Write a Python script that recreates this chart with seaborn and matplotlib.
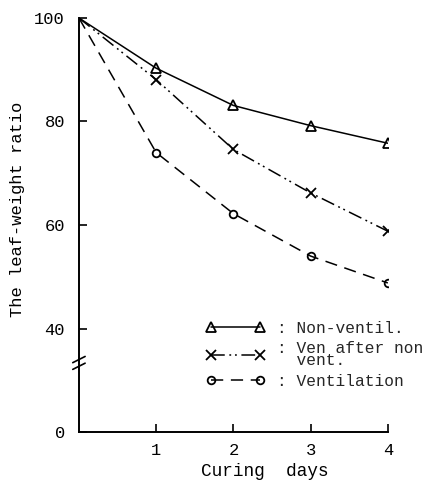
import numpy as np
import pandas as pd
import matplotlib
matplotlib.use("Agg")
import matplotlib.pyplot as plt
import seaborn as sns
from matplotlib.lines import Line2D

days = [0, 1, 2, 3, 4]
non_ventil = [100, 90.3, 83.1, 79.2, 75.8]
ven_after = [100, 88.1, 74.6, 66.2, 58.8]
ventilation = [100, 74.0, 62.2, 54.0, 48.8]
ytick_vals = [20, 40, 60, 80, 100]
ytick_labels = ["0", "40", "60", "80", "100"]
xtick_vals = [1, 2, 3, 4]
labels = [": Non-ventil.", ": Ven after non\n  vent.", ": Ventilation"]

sns.set_theme(style="white")
plt.rcParams["font.family"] = ["Liberation Mono", "DejaVu Sans Mono"]

fig = plt.figure(figsize=(4.29, 4.93), dpi=100)
ax = fig.add_axes([0.184, 0.1237, 0.720, 0.8398])

styles = [
    (non_ventil, "^", "-", 6.5),
    (ven_after, "x", (0, (9, 3, 1.2, 2.5, 1.2, 3)), 6.5),
    (ventilation, "o", (0, (8, 5)), 5.5),
]
handles = []
for (vals, mk, ls, ms), lab in zip(styles, labels):
    df = pd.DataFrame({"day": days, "ratio": vals})
    sns.lineplot(data=df, x="day", y="ratio", ax=ax, color="black",
                 linewidth=1.1, linestyle=ls, marker=mk, markevery=[1, 2, 3, 4],
                 markersize=ms, markerfacecolor="none", markeredgecolor="black",
                 markeredgewidth=1.3)
    handles.append(Line2D([], [], color="black", linewidth=1.1, linestyle=ls,
                          marker=mk, markersize=ms, markerfacecolor="none",
                          markeredgecolor="black", markeredgewidth=1.3))

ax.set_xlim(0, 4)
ax.set_ylim(20, 100)
ax.set_yticks(ytick_vals)
ax.set_yticklabels(ytick_labels)
ax.set_xticks(xtick_vals)
ax.set_xticklabels([str(v) for v in xtick_vals])
ax.tick_params(direction="in", length=6, width=1.2, colors="black",
               labelsize=12.3, left=True, bottom=True)
ax.tick_params(axis="y", pad=10)
ax.tick_params(axis="x", pad=8)
for s in ["top", "right"]:
    ax.spines[s].set_visible(False)
for s in ["left", "bottom"]:
    ax.spines[s].set_color("black")
    ax.spines[s].set_linewidth(1.4)

ax.set_xlabel("Curing  days", fontsize=12.8, color="black")
ax.set_ylabel("The leaf-weight ratio", fontsize=12.3, color="black")
ax.xaxis.set_label_coords(0.60, -0.075)
ax.yaxis.set_label_coords(-0.175, 0.537)

# axis break marks
for yy in [32.7, 34.0]:
    ax.plot([-0.08, 0.08], [yy - 0.6, yy + 0.6], color="black", lw=1.2,
            clip_on=False)

leg = ax.legend(handles, labels, loc="upper left", bbox_to_anchor=(0.39, 0.285),
                frameon=False, numpoints=2, handlelength=3.6, handletextpad=0.8,
                labelspacing=0.35, fontsize=11.7, borderaxespad=0)
for t in leg.get_texts():
    t.set_linespacing(0.72)

fig.savefig("out.png", dpi=100)
